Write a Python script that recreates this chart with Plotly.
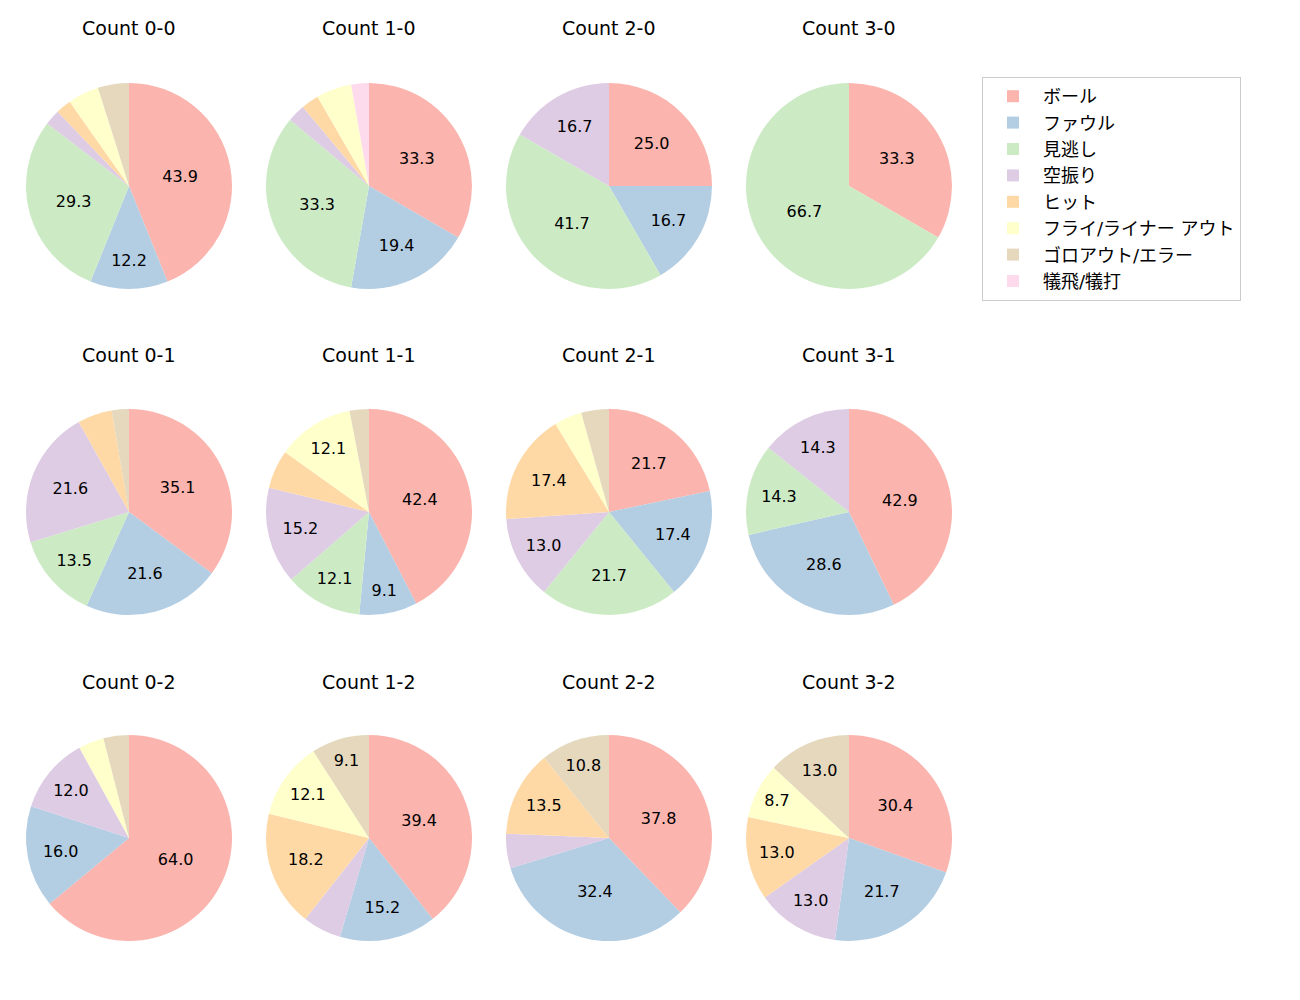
import plotly.graph_objects as go

labels = ["ボール", "ファウル", "見逃し", "空振り", "ヒット",
          "フライ/ライナー アウト", "ゴロアウト/エラー", "犠飛/犠打"]
colors = ["#fbb4ae", "#b3cde3", "#ccebc5", "#decbe4", "#fed9a6",
          "#ffffcc", "#e5d8bd", "#fddaec"]

titles = ["Count 0-0", "Count 1-0", "Count 2-0", "Count 3-0",
          "Count 0-1", "Count 1-1", "Count 2-1", "Count 3-1",
          "Count 0-2", "Count 1-2", "Count 2-2", "Count 3-2"]

count_0_0 = [18, 5, 12, 1, 1, 2, 2, 0]
count_1_0 = [12, 7, 12, 1, 1, 2, 0, 1]
count_2_0 = [3, 2, 5, 2, 0, 0, 0, 0]
count_3_0 = [1, 0, 2, 0, 0, 0, 0, 0]
count_0_1 = [13, 8, 5, 8, 2, 0, 1, 0]
count_1_1 = [14, 3, 4, 5, 2, 4, 1, 0]
count_2_1 = [5, 4, 5, 3, 4, 1, 1, 0]
count_3_1 = [3, 2, 1, 1, 0, 0, 0, 0]
count_0_2 = [16, 4, 0, 3, 0, 1, 1, 0]
count_1_2 = [13, 5, 0, 2, 6, 4, 3, 0]
count_2_2 = [14, 12, 0, 2, 5, 0, 4, 0]
count_3_2 = [7, 5, 0, 3, 3, 2, 3, 0]

data = [count_0_0, count_1_0, count_2_0, count_3_0,
        count_0_1, count_1_1, count_2_1, count_3_1,
        count_0_2, count_1_2, count_2_2, count_3_2]

W, H = 1300, 1000
col_cx = [129, 369, 609, 849]
row_cy = [186, 512, 838]
row_title_y = [28, 355, 682]
R = 103
FONT = "DejaVu Sans, Noto Sans CJK JP, sans-serif"

fig = go.Figure()
annotations = []
for i, vals in enumerate(data):
    r, c = divmod(i, 4)
    cx, cy = col_cx[c], row_cy[r]
    total = sum(vals)
    texts = []
    for v in vals:
        p = v / total * 100 if total else 0
        texts.append(f"{p:.1f}" if p >= 7 else "")
    fig.add_trace(go.Pie(
        labels=labels, values=vals, text=texts,
        textinfo="text", textposition="inside",
        insidetextorientation="horizontal",
        marker=dict(colors=colors, line=dict(width=0)),
        sort=False, direction="clockwise", rotation=0,
        domain=dict(x=[(cx - R) / W, (cx + R) / W],
                    y=[1 - (cy + R) / H, 1 - (cy - R) / H]),
        textfont=dict(size=16, color="black", family=FONT),
        hoverinfo="label+percent", showlegend=(i == 0),
    ))
    annotations.append(dict(
        text=titles[i], x=cx / W, y=1 - row_title_y[r] / H,
        xref="paper", yref="paper", xanchor="center", yanchor="middle",
        showarrow=False, font=dict(size=19, color="black", family=FONT)))

fig.update_layout(
    width=W, height=H,
    margin=dict(l=0, r=0, t=0, b=0),
    paper_bgcolor="white", plot_bgcolor="white",
    annotations=annotations,
    font=dict(family=FONT, color="black"),
    legend=dict(
        x=982 / W, y=1 - 77 / H, xanchor="left", yanchor="top",
        bordercolor="#cccccc", borderwidth=1, bgcolor="white",
        font=dict(size=18, family=FONT, color="black"),
        traceorder="normal", itemwidth=50,
    ),
)

fig.write_html("out.html")
